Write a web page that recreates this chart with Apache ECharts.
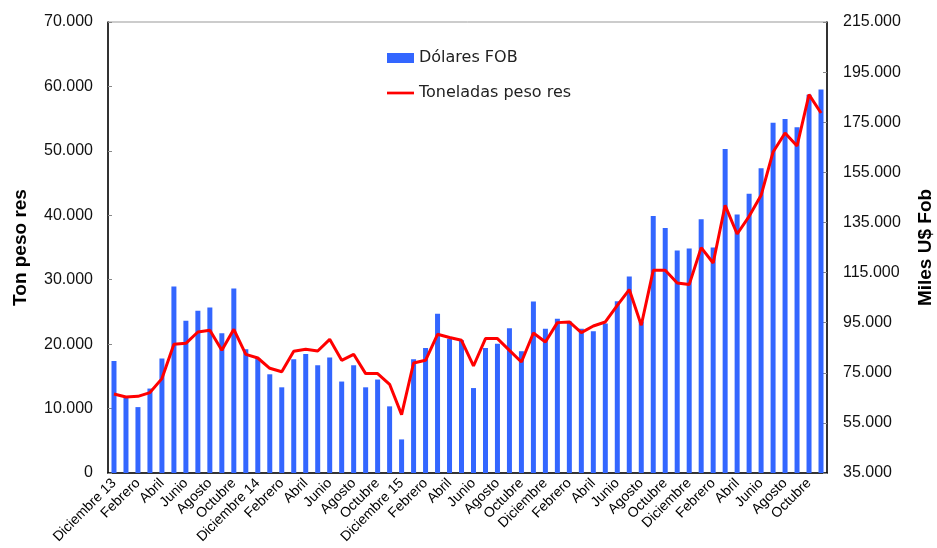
<!DOCTYPE html>
<html>
<head>
<meta charset="utf-8">
<script src="https://cdn.jsdelivr.net/npm/echarts@6/dist/echarts.min.js"></script>
<style>html,body{margin:0;padding:0;background:#fff}#c{width:937px;height:548px}</style>
</head>
<body>
<div id="c"></div>
<script>
const categories = [
  'Diciembre 13','Enero','Febrero','Marzo','Abril','Mayo','Junio','Julio','Agosto','Septiembre','Octubre','Noviembre',
  'Diciembre 14','Enero','Febrero','Marzo','Abril','Mayo','Junio','Julio','Agosto','Septiembre','Octubre','Noviembre',
  'Diciembre 15','Enero','Febrero','Marzo','Abril','Mayo','Junio','Julio','Agosto','Septiembre','Octubre','Noviembre',
  'Diciembre','Enero','Febrero','Marzo','Abril','Mayo','Junio','Julio','Agosto','Septiembre','Octubre','Noviembre',
  'Diciembre','Enero','Febrero','Marzo','Abril','Mayo','Junio','Julio','Agosto','Septiembre','Octubre','Noviembre'
];
// Miles U$ Fob (bars, right axis)
const dolaresFOB = [
  79700, 65100, 61300, 68700, 80700, 109400, 95800, 99800, 101100, 90800, 108600, 84400,
  80900, 74400, 69200, 80400, 82500, 78000, 81100, 71500, 78000, 69200, 72300, 61600,
  48400, 80400, 84900, 98600, 88600, 88000, 68900, 84900, 86600, 92800, 83600, 103400,
  92600, 96600, 95500, 92600, 91600, 94700, 103500, 113400, 95500, 137600, 132800, 123800,
  124600, 136300, 125000, 164300, 138200, 146500, 156600, 174800, 176300, 173000, 186000, 188100
];
// Toneladas peso res (line, left axis)
const toneladas = [
  12260, 11800, 11900, 12480, 14650, 19980, 20130, 21890, 22150, 19040, 22300, 18420,
  17850, 16250, 15710, 18890, 19200, 18940, 20750, 17490, 18420, 15430, 15430, 13770,
  9060, 17070, 17490, 21530, 21020, 20600, 16610, 20860, 20860, 19040, 17230, 21730,
  20330, 23340, 23440, 21790, 22820, 23440, 26030, 28470, 22930, 31460, 31460, 29490,
  29240, 34980, 32590, 41550, 37100, 39840, 43100, 49820, 52770, 50750, 58730, 55880
];
const leftTicks = {min: 0, max: 70000, interval: 10000};
const rightTicks = {min: 35000, max: 215000, interval: 20000};

function fmt(v) { return String(Math.round(v)).replace(/\B(?=(\d{3})+(?!\d))/g, '.'); }
const FONT = '"Liberation Sans", Arial, sans-serif';
const LEGEND_FONT = '"DejaVu Sans", Verdana, sans-serif';

const chart = echarts.init(document.getElementById('c'), null, {renderer: 'canvas'});
chart.setOption({
  animation: false,
  backgroundColor: '#fff',
  textStyle: {fontFamily: FONT},
  grid: {left: 108, right: 110, top: 22, bottom: 75, outerBoundsMode: 'none', containLabel: false,
         show: true, borderColor: '#999', borderWidth: 1, backgroundColor: 'transparent'},
  legend: {
    orient: 'vertical', left: 387, top: 50, padding: 0, itemWidth: 27, itemHeight: 10, itemGap: 19,
    textStyle: {fontSize: 16, color: '#222', fontFamily: LEGEND_FONT},
    data: [
      {name: 'Dólares FOB', icon: 'rect'},
      {name: 'Toneladas peso res', icon: 'path://M0,0L30,0L30,3L0,3Z'}
    ]
  },
  xAxis: {
    type: 'category', data: categories, boundaryGap: true,
    axisLine: {lineStyle: {color: '#000', width: 1.5}},
    axisTick: {inside: true, length: 4, interval: 0, lineStyle: {color: '#888'}},
    axisLabel: {interval: 1, rotate: 45, fontSize: 14, color: '#000', margin: 8, fontFamily: FONT}
  },
  yAxis: [
    {
      type: 'value', min: leftTicks.min, max: leftTicks.max, interval: leftTicks.interval,
      name: 'Ton peso res', nameLocation: 'middle', nameRotate: 90, nameGap: 78,
      nameTextStyle: {fontSize: 19, fontWeight: 'bold', color: '#000', fontFamily: FONT},
      axisLine: {show: true, lineStyle: {color: '#000', width: 1.5}},
      axisTick: {show: true, inside: true, length: 4, lineStyle: {color: '#888'}},
      splitLine: {show: false},
      axisLabel: {formatter: fmt, fontSize: 16, color: '#111', margin: 15, fontFamily: FONT}
    },
    {
      type: 'value', min: rightTicks.min, max: rightTicks.max, interval: rightTicks.interval,
      name: 'Miles U$ Fob', nameLocation: 'middle', nameRotate: 90, nameGap: 89,
      nameTextStyle: {fontSize: 19, fontWeight: 'bold', color: '#000', fontFamily: FONT},
      axisLine: {show: true, lineStyle: {color: '#000', width: 1.5}},
      axisTick: {show: true, inside: true, length: 4, lineStyle: {color: '#888'}},
      splitLine: {show: false},
      axisLabel: {formatter: fmt, fontSize: 16, color: '#111', margin: 16, fontFamily: FONT}
    }
  ],
  series: [
    {
      name: 'Dólares FOB', type: 'bar', yAxisIndex: 1, data: dolaresFOB,
      barWidth: 5, itemStyle: {color: '#3366ff'}, z: 2
    },
    {
      name: 'Toneladas peso res', type: 'line', yAxisIndex: 0, data: toneladas,
      symbol: 'none', showSymbol: false, lineStyle: {color: '#ff0000', width: 3}, itemStyle: {color: '#ff0000'}, z: 3
    }
  ]
});
</script>
</body>
</html>
